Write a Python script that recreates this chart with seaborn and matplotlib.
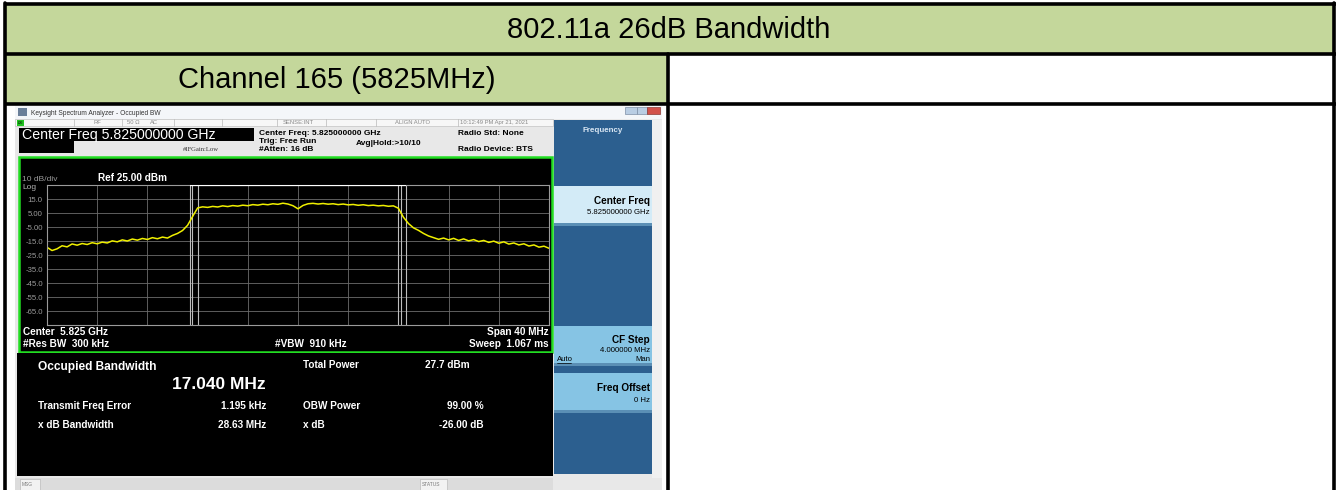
import numpy as np
import pandas as pd
import matplotlib
matplotlib.use("Agg")
import matplotlib.pyplot as plt
import matplotlib.patches as mpatches
import seaborn as sns

# table text
title = "802.11a 26dB Bandwidth"
channel = "Channel 165 (5825MHz)"

# analyzer settings
ref_level = 25.0
db_per_div = 10.0
span_mhz = 40.0
y_labels = ["15.0", "5.00", "-5.00", "-15.0", "-25.0", "-35.0", "-45.0", "-55.0", "-65.0"]

# trace (dBm), sweep points every 0.4 MHz from -20 to +20 MHz
level_dbm = [
    -19.5, -21.8, -20.6, -18.4, -19.2, -17.1, -18.0, -16.8, -17.5, -16.2,
    -17.0, -15.8, -16.4, -14.9, -15.6, -14.2, -15.0, -13.6, -14.4, -13.2,
    -13.9, -12.6, -13.4, -12.2, -12.9, -11.0, -9.6, -7.5, -3.8, 2.5,
    8.6, 9.4, 9.0, 9.7, 9.3, 10.1, 9.6, 10.3, 9.9, 10.6,
    10.2, 11.0, 10.6, 11.3, 10.9, 11.6, 11.2, 12.0, 11.4, 10.2,
    8.0, 10.4, 11.6, 11.9, 11.4, 11.8, 11.3, 11.6, 11.0, 11.4,
    10.8, 11.1, 10.5, 10.9, 10.3, 10.6, 10.1, 10.4, 9.8, 10.1,
    8.4, 2.0, -2.5, -5.6, -7.4, -9.6, -11.4, -12.6, -13.8, -12.9,
    -14.2, -13.1, -14.6, -13.5, -14.9, -14.0, -15.4, -14.6, -16.0, -15.1,
    -16.6, -15.6, -17.2, -16.4, -17.8, -17.0, -18.6, -17.8, -19.4, -18.7,
    -20.2,
]
freq_mhz = np.linspace(-span_mhz / 2, span_mhz / 2, len(level_dbm))

# OBW / x dB marker lines (MHz offset)
marker_mhz = [-8.6, -8.45, -8.0, 8.0, 8.2, 8.6]

# measurement readout
results_left = [("Transmit Freq Error", "1.195 kHz"), ("x dB Bandwidth", "28.63 MHz")]
results_right = [("Total Power", "27.7 dBm"), ("OBW Power", "99.00 %"), ("x dB", "-26.00 dB")]

sns.set_theme(style="dark")
plt.rcParams['font.family'] = ['Liberation Sans', 'DejaVu Sans']

W, H = 1341, 490
fig = plt.figure(figsize=(W / 100, H / 100), dpi=100)
ax = fig.add_axes([0, 0, 1, 1])
ax.set_xlim(0, W)
ax.set_ylim(H, 0)
ax.axis("off")


def box(x0, y0, x1, y1, fc, ec="none", lw=0, z=1):
    ax.add_patch(mpatches.Rectangle((x0, y0), x1 - x0, y1 - y0, facecolor=fc,
                                    edgecolor=ec, linewidth=lw, zorder=z))


def txt(x, y, s, size=6, color="black", weight="bold", ha="left", z=5, **kw):
    ax.text(x, y, s, fontsize=size, color=color, fontweight=weight, ha=ha,
            va="center", zorder=z, **kw)


# ---- table ----
green = "#c4d79b"
box(5, 5, 1335, 54, green)
box(5, 54, 668, 104, green)
for y in (4.5, 54, 104):
    ax.plot([4, 1336], [y, y], color="black", lw=2.6, zorder=3, solid_capstyle="butt")
ax.plot([5.5, 5.5], [3, H], color="black", lw=2.6, zorder=3)
ax.plot([1334.5, 1334.5], [3, H], color="black", lw=2.6, zorder=3)
ax.plot([668, 668], [54, H], color="black", lw=2.6, zorder=3)
txt(669, 30, title, size=21, weight="normal", ha="center")
txt(337, 80, channel, size=21, weight="normal", ha="center")

# ---- analyzer screenshot chrome ----
box(15, 106, 662, H, "#e8e8e8")
box(15, 106, 662, 119, "#f4f6f9")
box(18, 108, 27, 116, "#6a7f99", z=2)
txt(31, 113, "Keysight Spectrum Analyzer - Occupied BW", size=4.8, color="#333333", weight="normal")
# window buttons
box(625, 107, 637, 114, "#b9cde3", ec="#7d8fa6", lw=0.5, z=2)
box(637, 107, 647, 114, "#b9cde3", ec="#7d8fa6", lw=0.5, z=2)
box(647, 107, 660, 114, "#d2514a", ec="#8a3a35", lw=0.5, z=2)

# status row
box(15, 119, 553, 126, "#f7f7f7", ec="#b8b8b8", lw=0.4)
box(17, 119.5, 24, 125.5, "#22c322", z=2)
txt(17.5, 122.7, "LXI", size=2.6, weight="normal", color="black")
for xs in (74, 122, 174, 222, 277, 326, 376, 458):
    ax.plot([xs, xs], [119, 126], color="#b8b8b8", lw=0.5, zorder=2)
for xs, s in [(94, "RF"), (127, "50 \u03a9"), (150, "AC"), (283, "SENSE:INT"),
              (395, "ALIGN AUTO"), (460, "10:12:49 PM Apr 21, 2021")]:
    txt(xs, 122.7, s, size=4.2, weight="normal", color="#8a8a8a")

# header
box(19, 128, 254, 141, "black")
txt(22, 134.5, "Center Freq 5.825000000 GHz", size=10.2, color="white", weight="normal")
box(19, 141, 74, 153, "black")
txt(183, 149, "#IFGain:Low", size=4.8, color="#333333", weight="normal", family="Liberation Serif")
txt(259, 133, "Center Freq: 5.825000000 GHz", size=6)
txt(259, 141, "Trig: Free Run", size=6)
txt(259, 149, "#Atten: 16 dB", size=6)
txt(356, 143, "Avg|Hold:>10/10", size=6)
txt(458, 133, "Radio Std: None", size=6)
txt(458, 149, "Radio Device: BTS", size=6)

# plot frame + readout panel
box(19, 157, 552, 352, "black", ec="#22dd22", lw=1.8)
box(17, 353, 553, 476, "black")
box(15, 478, 553, H, "#dcdcdc")
box(20, 479, 40, H, "#f2f2f2", ec="#b0b0b0", lw=0.4)
txt(22, 484, "MSG", size=3.5, weight="normal", color="#777777")
box(420, 479, 447, H, "#f2f2f2", ec="#b0b0b0", lw=0.4)
txt(422, 484, "STATUS", size=3.5, weight="normal", color="#777777")

txt(22, 179, "10 dB/div", size=6, weight="normal", color="#9a9a9a")
txt(98, 178, "Ref 25.00 dBm", size=7.2, color="white")
txt(22, 187, "Log", size=6, weight="normal", color="#b0b0b0")
txt(23, 331.5, "Center  5.825 GHz", size=7.2, color="white")
txt(23, 343.5, "#Res BW  300 kHz", size=7.2, color="white")
txt(275, 343.5, "#VBW  910 kHz", size=7.2, color="white")
txt(549, 331.5, "Span 40 MHz", size=7.2, color="white", ha="right")
txt(549, 343.5, "Sweep  1.067 ms", size=7.2, color="white", ha="right")

txt(38, 367, "Occupied Bandwidth", size=8.6, color="white")
txt(266, 384, "17.040 MHz", size=12.5, color="white", ha="right")
for i, (name, val) in enumerate(results_left):
    txt(38, 406 + 18.5 * i, name, size=7.2, color="white")
    txt(266, 406 + 18.5 * i, val, size=7.2, color="white", ha="right")
for i, (name, val) in enumerate(results_right):
    yy = 365 + (41 if i == 1 else 0) + (59.5 if i == 2 else 0)
    txt(303, yy, name, size=7.2, color="white")
    if i == 0:
        txt(425, yy, val, size=7.2, color="white")
    else:
        txt(484, yy, val, size=7.2, color="white", ha="right")

# soft key panel
box(554, 120, 652, 474, "#2c5f8f")
box(652, 120, 662, 478, "#f0f0f0")
txt(603, 130, "Frequency", size=5.8, color="#d8e6f3", ha="center")
for (y0, y1, fc) in [(186, 226, "#d3ebf7"), (326, 366, "#86c4e4"), (373, 413, "#86c4e4")]:
    box(554, y0, 652, y1, fc, z=2)
    box(554, y1 - 3, 652, y1, "#5b8fb5", z=2)
txt(650, 201, "Center Freq", size=7.2, ha="right")
txt(650, 212, "5.825000000 GHz", size=5.6, weight="normal", ha="right")
txt(650, 340, "CF Step", size=7.2, ha="right")
txt(650, 350, "4.000000 MHz", size=5.6, weight="normal", ha="right")
txt(557, 359.5, "Auto", size=5.6, weight="normal")
ax.plot([557, 571], [363, 363], color="black", lw=0.5, zorder=5)
txt(650, 359.5, "Man", size=5.6, weight="normal", ha="right")
txt(650, 388, "Freq Offset", size=7.2, ha="right")
txt(650, 400, "0 Hz", size=5.6, weight="normal", ha="right")

# ---- spectrum trace ----
gx0, gx1, gy0, gy1 = 47, 549, 185, 325
sax = fig.add_axes([gx0 / W, 1 - gy1 / H, (gx1 - gx0) / W, (gy1 - gy0) / H])
sax.set_facecolor("black")
trace = pd.DataFrame({"freq": freq_mhz, "level": level_dbm})
sns.lineplot(data=trace, x="freq", y="level", ax=sax, color="#f0f000", lw=1.1)
sax.set_xlim(-span_mhz / 2, span_mhz / 2)
sax.set_ylim(ref_level - 10 * db_per_div, ref_level)
sax.set_xticks(np.arange(-16, 17, 4))
sax.set_xticklabels([])
sax.set_yticks([ref_level - db_per_div * (i + 1) for i in range(len(y_labels))])
sax.set_yticklabels(y_labels)
sax.tick_params(axis="y", length=0, pad=3, labelsize=5.6, labelcolor="#9a9a9a")
sax.tick_params(axis="x", length=0)
sax.set_xlabel("")
sax.set_ylabel("")
sax.grid(True, color="#6c6c6c", lw=0.6)
for sp in sax.spines.values():
    sp.set_visible(True)
    sp.set_color("#9a9a9a")
    sp.set_linewidth(0.8)
for m in marker_mhz:
    sax.axvline(m, color="#bdbdbd", lw=0.8, zorder=1)
sax.hlines(ref_level, marker_mhz[0], marker_mhz[-1], color="white", lw=1.6, zorder=3)

fig.savefig("out.png", dpi=100)
